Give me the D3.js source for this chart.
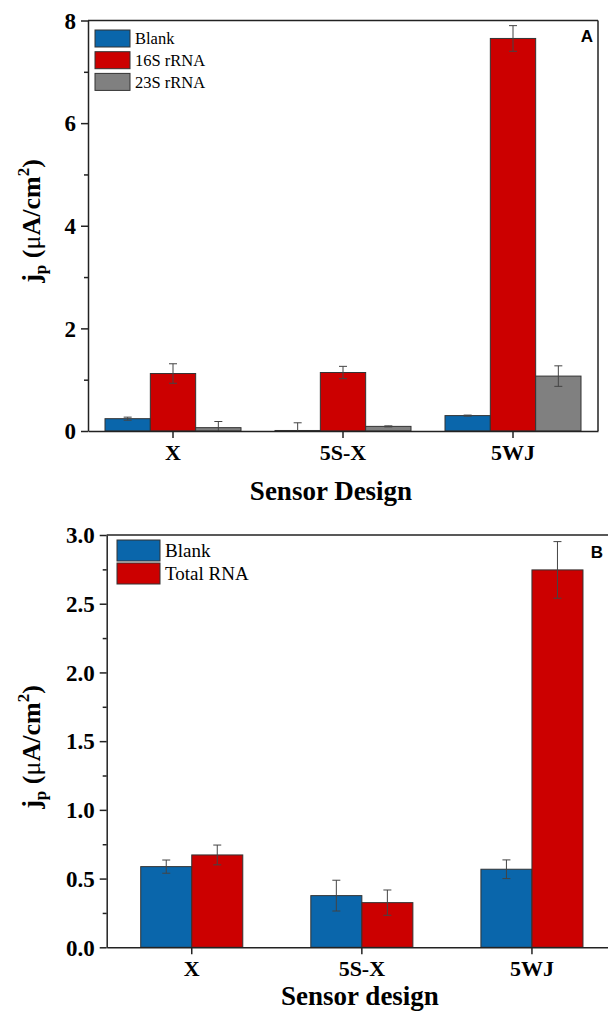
<!DOCTYPE html>
<meta charset="utf-8">
<title>Sensor design bars</title>
<style>
  body { margin: 0; background: #fff; }
  svg { display: block; }
  .tick text { font-family: "Liberation Serif", "Times New Roman", serif; font-weight: bold; }
</style>
<svg width="608" height="1012"></svg>
<script src="https://d3js.org/d3.v7.min.js"></script>
<script>

// ---- panel A data ----
var catsA = ["X", "5S-X", "5WJ"];
var seriesA = ["Blank", "16S rRNA", "23S rRNA"];
var blankA = [0.24, 0.01, 0.30];
var blankErrA = [0.03, 0.15, 0.01];
var rna16A = [1.12, 1.14, 7.65];
var rna16ErrA = [0.19, 0.12, 0.25];
var rna23A = [0.065, 0.09, 1.07];
var rna23ErrA = [0.12, 0.01, 0.20];
var yTicksA = [0, 2, 4, 6, 8];
var yMinorA = [1, 3, 5, 7];

// ---- panel B data ----
var catsB = ["X", "5S-X", "5WJ"];
var seriesB = ["Blank", "Total RNA"];
var blankB = [0.587, 0.376, 0.568];
var blankErrB = [0.048, 0.112, 0.068];
var totalB = [0.672, 0.325, 2.746];
var totalErrB = [0.072, 0.092, 0.206];
var yTicksB = [0, 0.5, 1.0, 1.5, 2.0, 2.5, 3.0];
var yMinorB = [0.25, 0.75, 1.25, 1.75, 2.25, 2.75];

var colors = ["#0a66ab", "#cc0000", "#808080"];
var serif = "'Liberation Serif', 'Times New Roman', serif";

var svg = d3.select("svg");

function panel(o) {
  var g = svg.append("g");
  var x = d3.scaleBand().domain(o.cats).range([o.left, o.right]).padding(0);
  var inner = d3.scaleBand().domain(o.series)
      .range([0, x.bandwidth() * o.groupFrac]).padding(0);
  var y = d3.scaleLinear().domain(o.ydom).range([o.bottom, o.top]);

  // bars
  o.series.forEach(function(s, si) {
    var vals = o.values[si], errs = o.errors[si];
    var off = (x.bandwidth() - x.bandwidth() * o.groupFrac) / 2;
    var bg = g.append("g");
    bg.selectAll("rect").data(o.cats).enter().append("rect")
      .attr("x", function(c) { return x(c) + off + inner(s); })
      .attr("y", function(c, i) { return y(vals[i]); })
      .attr("width", inner.bandwidth())
      .attr("height", function(c, i) { return y(0) - y(vals[i]); })
      .attr("fill", colors[si])
      .attr("stroke", "#333")
      .attr("stroke-width", 1);
    // error bars
    var eg = bg.selectAll("g.err").data(o.cats).enter().append("g")
      .attr("stroke", "#444").attr("stroke-width", 1);
    var cx = function(c) { return x(c) + off + inner(s) + inner.bandwidth() / 2; };
    eg.append("line")
      .attr("x1", cx).attr("x2", cx)
      .attr("y1", function(c, i) { return y(Math.max(0, vals[i] - errs[i])); })
      .attr("y2", function(c, i) { return y(vals[i] + errs[i]); });
    [1, -1].forEach(function(sg) {
      eg.append("line")
        .attr("x1", function(c) { return cx(c) - 4; })
        .attr("x2", function(c) { return cx(c) + 4; })
        .attr("y1", function(c, i) { return y(vals[i] + sg * errs[i]); })
        .attr("y2", function(c, i) { return y(vals[i] + sg * errs[i]); })
        .attr("display", function(c, i) { return vals[i] + sg * errs[i] < 0 ? "none" : null; });
    });
  });

  // frame (top + right)
  g.append("line").attr("x1", o.left).attr("x2", o.right).attr("y1", o.top).attr("y2", o.top)
    .attr("stroke", "#222").attr("stroke-width", 1.5);
  g.append("line").attr("x1", o.right).attr("x2", o.right).attr("y1", o.top).attr("y2", o.bottom)
    .attr("stroke", "#222").attr("stroke-width", 1.5);

  // y axis
  var ya = g.append("g").attr("transform", "translate(" + o.left + ",0)")
    .call(d3.axisLeft(y).tickValues(o.yTicks).tickSize(7).tickSizeOuter(0)
      .tickPadding(5).tickFormat(o.yFmt));
  g.append("g").attr("transform", "translate(" + o.left + ",0)")
    .call(d3.axisLeft(y).tickValues(o.yMinor).tickSize(4).tickFormat(""))
    .select(".domain").remove();
  ya.selectAll(".tick text").style("font-size", "23px").attr("dy", "0.34em");

  // x axis
  var xa = g.append("g").attr("transform", "translate(0," + o.bottom + ")")
    .call(d3.axisBottom(x).tickSize(7).tickSizeOuter(0).tickPadding(6));
  xa.selectAll(".tick text").style("font-size", "22px");

  g.selectAll(".domain, .tick line").attr("stroke", "#222").attr("stroke-width", 1.5);

  // axis titles
  g.append("text").attr("x", o.xTitleX).attr("y", o.xTitleY)
    .attr("text-anchor", "middle")
    .style("font-family", serif).style("font-weight", "bold").style("font-size", "27px")
    .text(o.xTitle);

  var yt = g.append("text")
    .attr("transform", "translate(" + o.yTitleX + "," + o.yTitleY + ") rotate(-90)")
    .attr("text-anchor", "middle")
    .style("font-family", serif).style("font-weight", "bold").style("font-size", "26px");
  yt.append("tspan").text("j");
  yt.append("tspan").attr("dy", 6).style("font-size", "17px").text("p");
  yt.append("tspan").attr("dy", -6).text(" (");
  yt.append("tspan").style("font-weight", "normal").text("\u03bc");
  yt.append("tspan").text("A/cm");
  yt.append("tspan").attr("dy", -11).style("font-size", "17px").text("2");
  yt.append("tspan").attr("dy", 11).text(")");

  // legend
  var lg = g.append("g");
  o.series.forEach(function(s, i) {
    lg.append("rect").attr("x", o.legX).attr("y", o.legY + i * o.legStep)
      .attr("width", o.legW).attr("height", o.legH)
      .attr("fill", colors[i]).attr("stroke", "#333").attr("stroke-width", 1);
    lg.append("text").attr("x", o.legX + o.legW + 5).attr("y", o.legY + i * o.legStep + o.legH / 2)
      .attr("dy", "0.35em")
      .style("font-family", serif).style("font-size", o.legFont + "px")
      .text(s);
  });

  // panel letter
  g.append("text").attr("x", o.letterX).attr("y", o.letterY).attr("text-anchor", "end")
    .style("font-family", "'Liberation Sans', Arial, sans-serif").style("font-weight", "bold")
    .style("font-size", "17px").text(o.letter);
}

panel({
  cats: catsA, series: seriesA,
  values: [blankA, rna16A, rna23A], errors: [blankErrA, rna16ErrA, rna23ErrA],
  left: 88, right: 598, top: 20.5, bottom: 431, ydom: [0, 8], groupFrac: 0.8,
  yTicks: yTicksA, yMinor: yMinorA, yFmt: d3.format("d"),
  xTitle: "Sensor Design", xTitleX: 331, xTitleY: 500,
  yTitleX: 40, yTitleY: 221,
  legX: 95, legY: 30, legW: 35, legH: 17, legStep: 21.7, legFont: 16.5,
  letter: "A", letterX: 593, letterY: 42
});

panel({
  cats: catsB, series: seriesB,
  values: [blankB, totalB], errors: [blankErrB, totalErrB],
  left: 106.7, right: 617, top: 535, bottom: 947.3, ydom: [0, 3], groupFrac: 0.6,
  yTicks: yTicksB, yMinor: yMinorB, yFmt: d3.format(".1f"),
  xTitle: "Sensor design", xTitleX: 360, xTitleY: 1005,
  yTitleX: 40, yTitleY: 747,
  legX: 117, legY: 540, legW: 43, legH: 21, legStep: 23, legFont: 19,
  letter: "B", letterX: 603, letterY: 558
});

</script>
